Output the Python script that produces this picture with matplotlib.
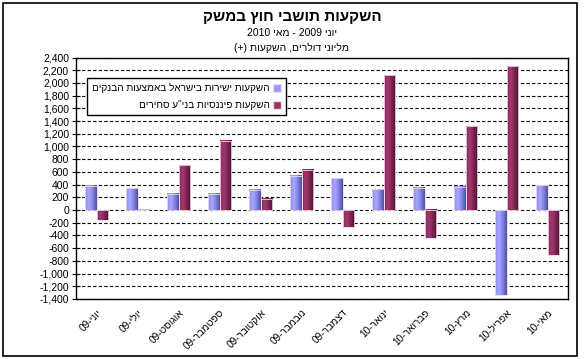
import re
import matplotlib
matplotlib.use("Agg")
import matplotlib.pyplot as plt
import numpy as np
from matplotlib.colors import LinearSegmentedColormap
from matplotlib.patches import Rectangle, Patch
from matplotlib.ticker import FuncFormatter

plt.rcParams['font.family'] = ['Liberation Sans', 'DejaVu Sans']

months = ['יוני', 'יולי', 'אוגוסט', 'ספטמבר', 'אוקטובר', 'נובמבר',
          'דצמבר', 'ינואר', 'פברואר', 'מרץ', 'אפריל', 'מאי']
years = ['09', '09', '09', '09', '09', '09', '09', '10', '10', '10', '10', '10']

direct = [383, 341, 252, 252, 315, 536, 500, 325, 347, 367, -1336, 388]
financial = [-153, 15, 703, 1090, 178, 631, -263, 2118, -448, 1319, 2265, -705]

series_names = ['השקעות ישירות בישראל באמצעות הבנקים', 'השקעות פיננסיות בני"ע סחירים']
title = 'השקעות תושבי חוץ במשק'
subtitle = 'יוני 2009 - מאי 2010'
unit_line = 'מליוני דולרים, השקעות (+)'


def rtl(s):
    # no bidi in matplotlib: lay the line out right to left by hand
    r = s[::-1]
    r = re.sub(r'[0-9]+', lambda m: m.group(0)[::-1], r)
    return r.translate(str.maketrans('()', ')('))


blue_cm = LinearSegmentedColormap.from_list('b', ['#8c8cf0', '#a8a8ff', '#8080e0', '#5050a0'])
red_cm = LinearSegmentedColormap.from_list('r', ['#8a2a5a', '#a33a70', '#7a2450', '#4a1230'])
grad = np.linspace(0, 1, 64).reshape(1, -1)

fig = plt.figure(figsize=(5.84, 3.59), dpi=100)
fig.patches.append(Rectangle((3 / 584, 3 / 359), 574 / 584, 353 / 359,
                             transform=fig.transFigure, fill=False,
                             ec='black', lw=1.2))

ax = fig.add_axes([76 / 584, 1 - 299 / 359, 492 / 584, 241.5 / 359])

x = np.arange(len(months))
w = 0.27
b1 = ax.bar(x - w, direct, w, align='edge', color='#9999ff', zorder=2)
b2 = ax.bar(x, financial, w, align='edge', color='#993366', zorder=2)

for bars, cm in ((b1, blue_cm), (b2, red_cm)):
    for r in bars:
        x0, y0, h = r.get_x(), r.get_y(), r.get_height()
        ax.imshow(grad, cmap=cm, aspect='auto', interpolation='bilinear',
                  extent=[x0, x0 + r.get_width(), min(y0, y0 + h), max(y0, y0 + h)],
                  zorder=3)
        ax.add_patch(Rectangle((x0, y0), r.get_width(), h, fill=False,
                               ec='#f0d8e8', lw=0.6, zorder=4))

ax.set_xlim(-0.5, len(months) - 0.5)
ax.set_ylim(-1400, 2400)
ax.set_yticks(range(-1400, 2401, 200))
ax.yaxis.set_major_formatter(FuncFormatter(lambda v, p: f'{v:,.0f}'))
ax.tick_params(axis='y', direction='inout', length=6, width=0.8, labelsize=7.5, pad=2)
ax.yaxis.grid(True, ls=(0, (3, 2)), color='black', lw=0.8, zorder=1)

ax.set_xticks(x)
ax.set_xticklabels([rtl(f'{m}-{y}') for m, y in zip(months, years)],
                   rotation=45, ha='right', va='top', rotation_mode='anchor',
                   fontsize=7.3)
ax.tick_params(axis='x', length=0, pad=6)

for s in ax.spines.values():
    s.set_linewidth(1)
    s.set_color('black')

handles = [Patch(facecolor='#9999ff', edgecolor='#f0d8e8'),
           Patch(facecolor='#993366', edgecolor='#f0d8e8')]
leg = ax.legend(handles, [rtl(n) for n in series_names], loc='upper left',
                bbox_to_anchor=(0.012, 0.935), markerfirst=False, fancybox=False,
                edgecolor='black', framealpha=1, fontsize=7.2,
                handlelength=0.8, handleheight=0.8, handletextpad=0.4,
                borderpad=0.5, labelspacing=0.7)
leg.get_frame().set_linewidth(1)
leg.set_zorder(10)

fig.text(0.5, 1 - 17 / 359, rtl(title), ha='center', va='center',
         fontsize=11, fontweight='bold')
fig.text(0.5, 1 - 33 / 359, rtl(subtitle), ha='center', va='center', fontsize=7.5)
fig.text(0.5, 1 - 48 / 359, rtl(unit_line), ha='center', va='center', fontsize=7.5)

fig.savefig('out.png', dpi=100)
